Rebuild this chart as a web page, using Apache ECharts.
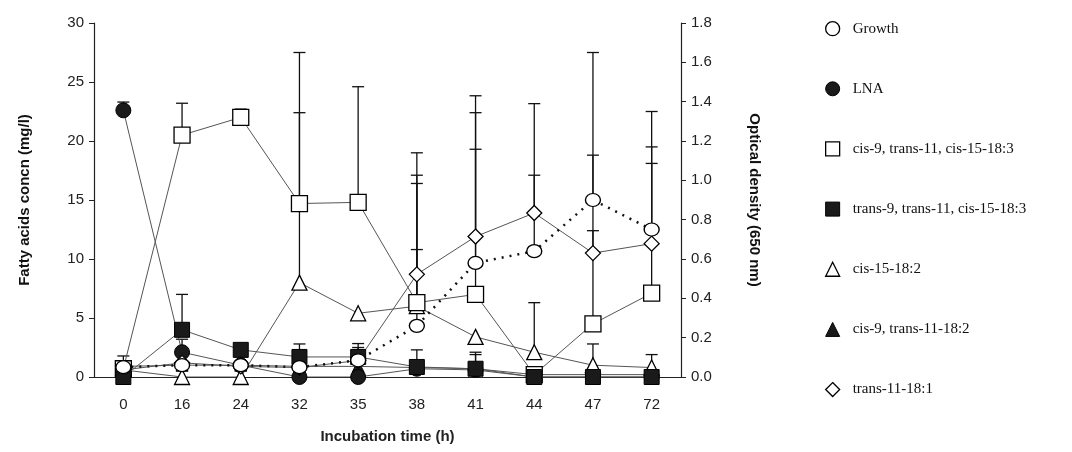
<!DOCTYPE html>
<html>
<head>
<meta charset="utf-8">
<script src="https://cdn.jsdelivr.net/npm/echarts@6/dist/echarts.min.js"></script>
<style>
  html, body { margin: 0; padding: 0; background: #fff; }
  #chart { width: 1072px; height: 452px; }
</style>
</head>
<body>
<div id="chart"></div>
<script>
// incubation time (h)
var hours = ['0', '16', '24', '32', '35', '38', '41', '44', '47', '72'];
var leftTicks = [0, 30, 5];
var rightTicks = [0, 1.8, 0.2];

// optical density (right axis)
var growth    = [0.05, 0.06, 0.06, 0.05, 0.085, 0.26, 0.58, 0.64, 0.90, 0.75];
var growthHi  = [0.107, null, null, null, 0.17, 1.14, 1.43, 1.39, 1.65, 1.35];

// fatty acids, mg/l (left axis)
var lna       = [22.6, 2.1, 1.0, 0.0, 0.0, 0.7, 0.6, 0.0, 0.0, 0.0];
var lnaHi     = [23.3, 3.2, null, null, null, null, 1.9, null, null, null];
var c9t11c15  = [0.7, 20.5, 22.0, 14.7, 14.8, 6.3, 7.0, 0.2, 4.5, 7.1];
var c9t11c15Hi = [null, 23.2, 22.7, 27.5, 24.6, 16.4, 19.3, null, 12.4, 18.1];
var t9t11c15  = [0.0, 4.0, 2.3, 1.7, 1.7, 0.85, 0.7, 0.0, 0.0, 0.0];
var t9t11c15Hi = [null, 7.0, null, 2.8, 2.5, 2.3, 2.1, null, null, null];
var c15       = [0.6, 0.0, 0.0, 8.0, 5.4, 6.0, 3.4, 2.1, 1.0, 0.8];
var c15Hi     = [null, null, null, 22.4, null, 10.8, null, 6.3, 2.8, 1.9];
var c9t11     = [0.9, 1.0, 1.0, 0.9, 0.9, 0.8, 0.7, 0.2, 0.2, 0.2];
var t11       = [0.6, 1.2, 0.9, 0.8, 1.4, 8.7, 11.9, 13.9, 10.5, 11.3];
var t11Hi     = [null, null, null, null, null, 17.1, 22.4, 17.1, 18.8, 19.5];

var chart = echarts.init(document.getElementById('chart'));

function errData(vals, his) {
    var out = [];
    for (var i = 0; i < vals.length; i++) {
        if (his[i] != null) out.push([i, vals[i], his[i]]);
    }
    return out;
}

// vertical error bar with a cap at the top
function renderErr(params, api) {
    var lo = api.coord([api.value(0), api.value(1)]);
    var hi = api.coord([api.value(0), api.value(2)]);
    var w = 6;
    var st = { stroke: '#111', lineWidth: 1.3 };
    return {
        type: 'group',
        children: [
            { type: 'line', shape: { x1: lo[0], y1: lo[1], x2: hi[0], y2: hi[1] }, style: st },
            { type: 'line', shape: { x1: hi[0] - w, y1: hi[1], x2: hi[0] + w, y2: hi[1] }, style: st }
        ]
    };
}

function errSeries(vals, his, axis) {
    return {
        type: 'custom',
        yAxisIndex: axis,
        renderItem: renderErr,
        encode: { x: 0, y: [1, 2] },
        data: errData(vals, his),
        z: 1,
        silent: true
    };
}

var openStyle = { color: '#fff', borderColor: '#000', borderWidth: 1.3 };
var fillStyle = { color: '#1a1a1a', borderColor: '#000', borderWidth: 1 };

function lineSeries(name, data, symbol, size, style, z) {
    return {
        name: name,
        type: 'line',
        data: data,
        symbol: symbol,
        symbolSize: size,
        showAllSymbol: true,
        itemStyle: style,
        lineStyle: { color: '#555', width: 1 },
        z: z
    };
}

var names = ['Growth', 'LNA', 'cis-9, trans-11, cis-15-18:3', 'trans-9, trans-11, cis-15-18:3',
             'cis-15-18:2', 'cis-9, trans-11-18:2', 'trans-11-18:1'];

option = {
    backgroundColor: '#fff',
    animation: false,
    textStyle: { fontFamily: 'Liberation Sans' },
    grid: {
        left: 94,
        right: 391,
        top: 23,
        bottom: 75
    },
    legend: {
        orient: 'vertical',
        left: 820,
        top: 16,
        itemGap: 45,
        itemWidth: 14,
        itemHeight: 14,
        textStyle: { fontFamily: 'Liberation Serif', fontSize: 15, color: '#111', padding: [0, 0, 6, 8] },
        data: [
            { name: names[0], icon: 'circle', itemStyle: openStyle },
            { name: names[1], icon: 'circle', itemStyle: fillStyle },
            { name: names[2], icon: 'rect', itemStyle: openStyle },
            { name: names[3], icon: 'rect', itemStyle: fillStyle },
            { name: names[4], icon: 'triangle', itemStyle: openStyle },
            { name: names[5], icon: 'triangle', itemStyle: fillStyle },
            { name: names[6], icon: 'diamond', itemStyle: openStyle }
        ]
    },
    xAxis: {
        type: 'category',
        data: hours,
        name: 'Incubation time (h)',
        nameLocation: 'middle',
        nameGap: 52,
        nameTextStyle: { fontWeight: 'bold', fontSize: 15, color: '#222' },
        axisLine: { lineStyle: { color: '#222', width: 1.2 } },
        axisTick: { inside: true, length: 6, lineStyle: { color: '#222' } },
        axisLabel: { fontSize: 15, color: '#222', margin: 20 }
    },
    yAxis: [
        {
            type: 'value',
            min: leftTicks[0],
            max: leftTicks[1],
            interval: leftTicks[2],
            name: 'Fatty acids concn (mg/l)',
            nameLocation: 'middle',
            nameGap: 62,
            nameTextStyle: { fontWeight: 'bold', fontSize: 15, color: '#111' },
            axisLine: { show: true, lineStyle: { color: '#222', width: 1.2 } },
            axisTick: { show: true, length: 5, lineStyle: { color: '#222' } },
            axisLabel: { fontSize: 15, color: '#222', margin: 10 },
            splitLine: { show: false }
        },
        {
            type: 'value',
            position: 'right',
            min: rightTicks[0],
            max: rightTicks[1],
            interval: rightTicks[2],
            name: 'Optical density (650 nm)',
            nameLocation: 'middle',
            nameRotate: -90,
            nameGap: 66,
            nameTextStyle: { fontWeight: 'bold', fontSize: 15, color: '#111' },
            axisLine: { show: true, lineStyle: { color: '#222', width: 1.2 } },
            axisTick: { show: true, length: 5, lineStyle: { color: '#222' } },
            axisLabel: { fontSize: 15, color: '#222', margin: 10, formatter: function (v) { return v.toFixed(1); } },
            splitLine: { show: false }
        }
    ],
    series: [
        errSeries(growth, growthHi, 1),
        errSeries(lna, lnaHi, 0),
        errSeries(c9t11c15, c9t11c15Hi, 0),
        errSeries(t9t11c15, t9t11c15Hi, 0),
        errSeries(c15, c15Hi, 0),
        errSeries(t11, t11Hi, 0),
        lineSeries(names[5], c9t11, 'triangle', 12, fillStyle, 2),
        lineSeries(names[1], lna, 'circle', 15, fillStyle, 3),
        lineSeries(names[4], c15, 'triangle', 15, openStyle, 4),
        lineSeries(names[6], t11, 'diamond', 15, openStyle, 5),
        lineSeries(names[2], c9t11c15, 'rect', 16, openStyle, 6),
        lineSeries(names[3], t9t11c15, 'rect', 15, fillStyle, 7),
        {
            name: names[0],
            type: 'line',
            yAxisIndex: 1,
            data: growth,
            symbol: 'circle',
            symbolSize: [15, 13],
            showAllSymbol: true,
            itemStyle: openStyle,
            lineStyle: { color: '#111', width: 2.5, type: [2, 6] },
            z: 8
        }
    ]
};
chart.setOption(option);
</script>
</body>
</html>
